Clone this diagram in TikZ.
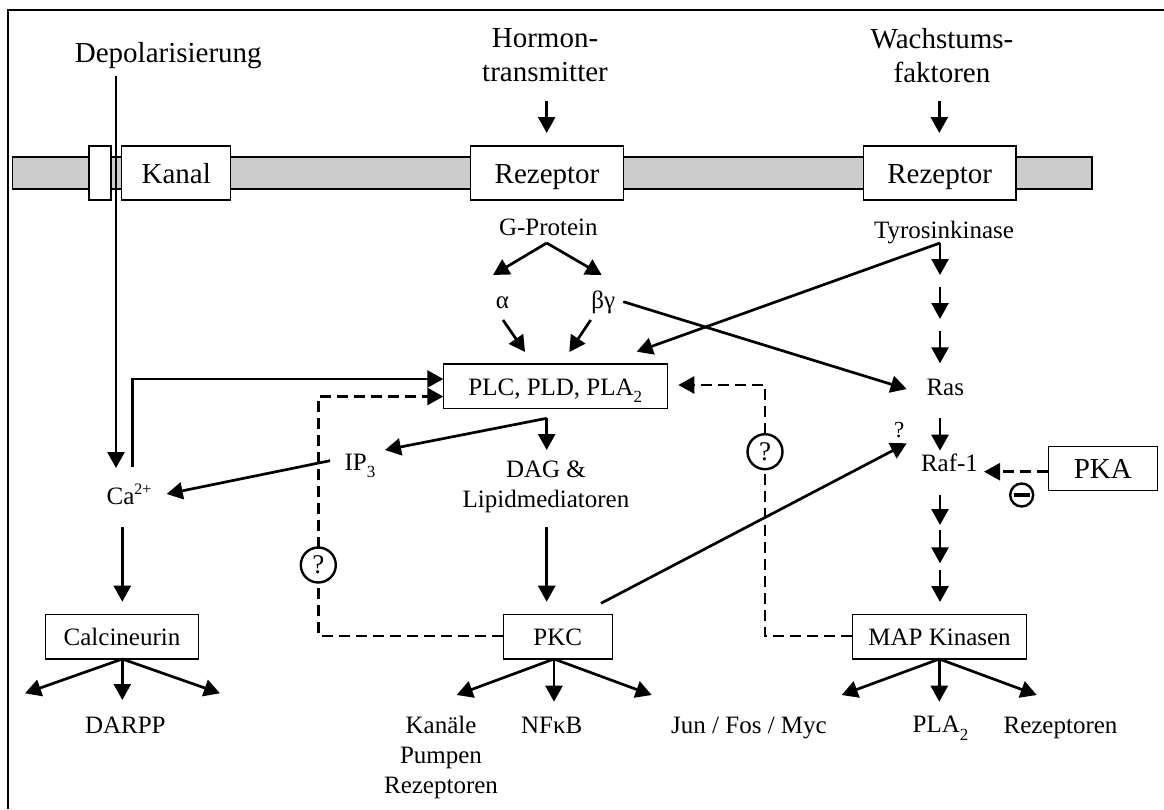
\documentclass[tikz,border=0pt]{standalone}
\usepackage{fontspec}
\setmainfont{Liberation Serif}
\usetikzlibrary{arrows.meta}
\newcommand{\lowidx}[1]{\raisebox{-0.3em}{\fontsize{17}{17}\selectfont #1}}
\newcommand{\highidx}[1]{\raisebox{0.4em}{\fontsize{16}{16}\selectfont #1}}

\begin{document}
\begin{tikzpicture}[x=1pt,y=-1pt,
  big/.style={font=\fontsize{29}{34}\selectfont, inner sep=0pt},
  mid/.style={font=\fontsize{25}{30}\selectfont, inner sep=0pt},
  memb/.style={draw, line width=1.5pt, fill=white, inner sep=0pt, minimum height=54pt, big, text height=21pt, text depth=0pt},
  enz/.style={draw, line width=1.5pt, fill=white, inner sep=0pt, minimum height=44.5pt, mid, text height=18pt, text depth=0pt},
  tip/.style={-{Triangle[length=16pt,width=17pt]}},
  arr/.style={line width=2.7pt, tip},
  dsh/.style={line width=2.7pt, dash pattern=on 11pt off 6pt},
  qcirc/.style={circle, draw, line width=2.4pt, fill=white, minimum size=35pt, inner sep=0pt, font=\fontsize{27}{27}\selectfont},
]
\useasboundingbox (0,0) rectangle (1164,809);

% outer frame
\draw[line width=2.6pt] (8,809) -- (8,10) -- (1164,10);

% membrane
\draw[line width=1.3pt, fill=black!20] (12.7,157) rectangle (1092,189);
\node[memb, minimum width=22pt] (gate) at (100,173) {};
\node[memb, minimum width=109pt] (kanal) at (176.2,173) {Kanal};
\node[memb, minimum width=152.6pt] (rezA) at (547,173) {Rezeptor};
\node[memb, minimum width=152.7pt] (rezB) at (939.7,173) {Rezeptor};

% enzyme boxes
\node[enz, minimum width=224pt] (plc) at (555.3,386.2) {PLC, PLD, PLA\lowidx{2}};
\node[enz, minimum width=152.6pt] (calc) at (122,636.7) {Calcineurin};
\node[enz, minimum width=109pt] (pkc) at (557.8,636.7) {PKC};
\node[enz, minimum width=174.4pt] (map) at (939.5,636.7) {MAP Kinasen};
\node[draw, line width=1.5pt, fill=white, inner sep=0pt, minimum width=109pt, minimum height=44pt, big, text height=19pt, text depth=0pt] (pka) at (1102.8,468.7) {PKA};

% labels
\node[big, anchor=base] (depol) at (168.3,62.3) {Depolarisierung};
\node[big, align=center] (hormon) at (545,55.4) {Hormon-\\transmitter};
\node[big, align=center] (wachs) at (942,56) {Wachstums-\\faktoren};
\node[mid, anchor=base] (gprot) at (548.3,235) {G-Protein};
\node[mid, anchor=base] (tyr) at (944,238) {Tyrosinkinase};
\node[mid, anchor=base] (alpha) at (502.5,308.3) {α};
\node[mid, anchor=base] (bg) at (603.3,308.3) {βγ};
\node[mid, anchor=base] (ras) at (945.3,395) {Ras};
\node[mid, anchor=base] (raf) at (949.5,471.7) {Raf-1};
\node[mid, anchor=base] (ip3) at (360,470) {IP\lowidx{3}};
\node[mid, anchor=base] (ca) at (129,504) {Ca\highidx{2+}};
\node[mid, align=center] (dag) at (546,486.5) {DAG \&\\Lipidmediatoren};
\node[mid, anchor=base] (darpp) at (125.3,733.3) {DARPP};
\node[mid, align=center] (kanaele) at (441,757.6) {Kanäle\\Pumpen\\Rezeptoren};
\node[mid, anchor=base] (nfkb) at (551.7,733) {NFκB};
\node[mid, anchor=base] (jun) at (749,733) {Jun / Fos / Myc};
\node[mid, anchor=base] (pla) at (940.5,732.7) {PLA\lowidx{2}};
\node[mid, anchor=base] (rezout) at (1060.5,733) {Rezeptoren};
\node[font=\fontsize{23}{23}\selectfont, inner sep=0pt] (qraf) at (899.3,430) {?};

% junction and end points
\coordinate (dTop) at (116,76);
\coordinate (caIn) at (116,468);
\coordinate (hTop) at (546.7,101);
\coordinate (hTip) at (546.7,133);
\coordinate (wTop) at (939.3,101);
\coordinate (wTip) at (939.3,133);
\coordinate (gApex) at (546.7,243);
\coordinate (gL) at (493,275);
\coordinate (gR) at (601.7,275);
\coordinate (aFrom) at (503,320);
\coordinate (aTo) at (525,352);
\coordinate (bFrom) at (590.7,320);
\coordinate (bTo) at (569.3,352);
\coordinate (bgOut) at (623.3,301.7);
\coordinate (rasIn) at (906.7,389);
\coordinate (tApex) at (940,243);
\coordinate (tPlc) at (636.7,351.7);
\coordinate (s1) at (940,275);
\coordinate (s2a) at (940,286.7);
\coordinate (s2b) at (940,319);
\coordinate (s3a) at (940,330.7);
\coordinate (s3b) at (940,363.3);
\coordinate (s4a) at (940,418.3);
\coordinate (s4b) at (940,450.7);
\coordinate (s5a) at (940,495);
\coordinate (s5b) at (940,525);
\coordinate (s6a) at (940,530);
\coordinate (s6b) at (940,563.3);
\coordinate (s7a) at (940,570);
\coordinate (s7b) at (940,602);
\coordinate (rafIn) at (984,471.7);
\coordinate (caUp) at (132.7,466.7);
\coordinate (plcSolid) at (443.3,379);
\coordinate (plcDashL) at (443.3,396.5);
\coordinate (loopL) at (318.3,636);
\coordinate (loopR) at (765,636);
\coordinate (plcDashR) at (678.3,385);
\coordinate (plcOut) at (546.7,418.3);
\coordinate (ipTip) at (385,450);
\coordinate (dagTip) at (546.7,450);
\coordinate (ipOut) at (330,460.7);
\coordinate (caTip) at (166.7,494);
\coordinate (dagOut) at (546.7,526.7);
\coordinate (pkcTip) at (546.7,601.7);
\coordinate (pkcOut) at (601,603.3);
\coordinate (rafQ) at (906.7,443.3);
\coordinate (caOut) at (122.3,526.7);
\coordinate (calcTip) at (122.3,601.7);
\coordinate (cBr) at (122.3,659);
\coordinate (pBr) at (554,659);
\coordinate (mBr) at (939.3,659);

% input arrows
\draw[arr] (dTop) -- (caIn);
\draw[arr] (hTop) -- (hTip);
\draw[arr] (wTop) -- (wTip);

% G-protein branch
\draw[arr] (gApex) -- (gL);
\draw[arr] (gApex) -- (gR);
\draw[arr] (aFrom) -- (aTo);
\draw[arr] (bFrom) -- (bTo);
\draw[arr] (bgOut) -- (rasIn);

% tyrosine kinase cascade
\draw[arr] (tApex) -- (tPlc);
\draw[arr] (tApex) -- (s1);
\draw[arr] (s2a) -- (s2b);
\draw[arr] (s3a) -- (s3b);
\draw[arr] (s4a) -- (s4b);
\draw[arr] (s5a) -- (s5b);
\draw[arr] (s6a) -- (s6b);
\draw[arr] (s7a) -- (s7b);

% PKA inhibition
\draw[dsh, tip] (pka.west |- rafIn) -- (rafIn);
\node[circle, draw, line width=2.4pt, minimum size=23pt, inner sep=0pt] (minus) at (1021.7,495) {};
\draw[line width=3.4pt] ([xshift=-8pt]minus.center) -- ([xshift=8pt]minus.center);

% calcium to phospholipases
\draw[arr] (caUp) |- (plcSolid);

% feedback loops
\draw[dsh, tip] (pkc.west |- loopL) -- (loopL) |- (plcDashL);
\draw[dsh, tip] (map.west |- loopR) -- (loopR) |- (plcDashR);
\node[qcirc] (qL) at (318.3,565) {?};
\node[qcirc] (qR) at (765,451.7) {?};

% second messengers
\draw[arr] (plcOut) -- (ipTip);
\draw[arr] (plcOut) -- (dagTip);
\draw[arr] (ipOut) -- (caTip);
\draw[arr] (dagOut) -- (pkcTip);
\draw[arr] (pkcOut) -- (rafQ);
\draw[arr] (caOut) -- (calcTip);

% targets
\draw[arr] (cBr) -- (25,693.3);
\draw[arr] (cBr) -- (122.3,700);
\draw[arr] (cBr) -- (220,693.3);
\draw[arr] (pBr) -- (456.7,695);
\draw[arr] (pBr) -- (554,701.7);
\draw[arr] (pBr) -- (651.7,695);
\draw[arr] (mBr) -- (841.7,695);
\draw[arr] (mBr) -- (939.3,701.7);
\draw[arr] (mBr) -- (1036.7,695);
\end{tikzpicture}
\end{document}
